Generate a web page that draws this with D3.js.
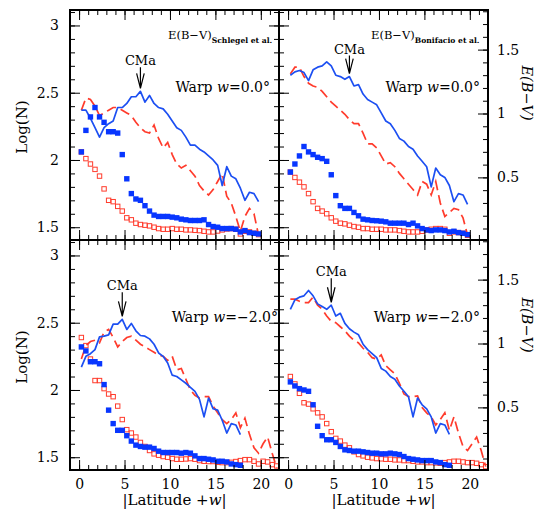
<!DOCTYPE html>
<html>
<head>
<meta charset="utf-8">
<script src="https://cdn.jsdelivr.net/npm/d3@7"></script>
<style>
    body { margin: 0; background: #fff; }
    svg text { font-family: "DejaVu Serif", serif; fill: #000; }
</style>
</head>
<body>
<svg id="chart" width="537" height="513"></svg>
<script>
(function () {

    // |Latitude + w| bins
    const latTop = [0.25, 0.75, 1.25, 1.75, 2.25, 2.75, 3.25, 3.75, 4.25, 4.75,
        5.25, 5.75, 6.25, 6.75, 7.25, 7.75, 8.25, 8.75, 9.25, 9.75,
        10.25, 10.75, 11.25, 11.75, 12.25, 12.75, 13.25, 13.75, 14.25, 14.75,
        15.25, 15.75, 16.25, 16.75, 17.25, 17.75, 18.25, 18.75, 19.25, 19.75];
    const latBot = [0.25, 0.75, 1.25, 1.75, 2.25, 2.75, 3.25, 3.75, 4.25, 4.75,
        5.25, 5.75, 6.25, 6.75, 7.25, 7.75, 8.25, 8.75, 9.25, 9.75,
        10.25, 10.75, 11.25, 11.75, 12.25, 12.75, 13.25, 13.75, 14.25, 14.75,
        15.25, 15.75, 16.25, 16.75, 17.25, 17.75, 18.25, 18.75, 19.25, 19.75,
        20.25, 20.75, 21.25, 21.75];

    // Warp w = 0.0, Schlegel et al.
    const tlLine = [2.37, 2.37, 2.31, 2.24, 2.17, 2.24, 2.27, 2.29, 2.39, 2.39,
        2.42, 2.47, 2.47, 2.51, 2.43, 2.48, 2.42, 2.39, 2.38, 2.34,
        2.29, 2.24, 2.22, 2.17, 2.11, 2.11, 2.08, 2.06, 2.03, 2.00,
        1.96, 1.81, 1.95, 1.88, 1.86, 1.79, 1.70, 1.76, 1.75, 1.69];
    const tlDash = [2.37, 2.46, 2.45, 2.40, 2.33, 2.35, 2.37, 2.39, 2.39, 2.37,
        2.35, 2.33, 2.28, 2.24, 2.21, 2.20, 2.26, 2.16, 2.09, 2.13,
        2.04, 1.97, 1.94, 1.96, 1.92, 1.88, 1.81, 1.77, 1.74, 1.78,
        1.84, 1.90, 1.73, 1.68, 1.58, 1.47, 1.58, 1.64, 1.60, 1.44];
    const tlBlueSq = [2.06, 2.22, 2.32, 2.39, 2.32, 2.28, 2.21, 2.21, 2.20, 2.04,
        1.86, 1.75, 1.71, 1.70, 1.66, 1.62, 1.59, 1.58, 1.58, 1.58,
        1.575, 1.57, 1.56, 1.555, 1.55, 1.55, 1.55, 1.555, 1.52, 1.505,
        1.50, 1.49, 1.49, 1.49, 1.485, 1.465, 1.475, 1.46, 1.455, 1.45];
    const tlRedSq = [2.06, 2.01, 1.97, 1.93, 1.88, 1.785, 1.70, 1.69, 1.655, 1.62,
        1.57, 1.555, 1.53, 1.52, 1.515, 1.51, 1.50, 1.49, 1.485, 1.485,
        1.49, 1.485, 1.485, 1.48, 1.48, 1.477, 1.475, 1.47, 1.465, 1.465,
        1.472, 1.48, 1.487, 1.49, 1.485, 1.45, 1.47, 1.465, 1.455, 1.445];

    // Warp w = 0.0, Bonifacio et al.
    const trLine = [2.63, 2.655, 2.665, 2.65, 2.59, 2.67, 2.69, 2.70, 2.73, 2.70,
        2.63, 2.62, 2.60, 2.62, 2.55, 2.56, 2.49, 2.45, 2.43, 2.41,
        2.35, 2.29, 2.27, 2.22, 2.16, 2.14, 2.10, 2.08, 2.03, 1.99,
        1.95, 1.80, 1.94, 1.89, 1.87, 1.81, 1.69, 1.75, 1.74, 1.67];
    const trDash = [2.64, 2.69, 2.69, 2.62, 2.57, 2.55, 2.54, 2.51, 2.47, 2.43,
        2.40, 2.37, 2.34, 2.30, 2.27, 2.27, 2.20, 2.12, 2.12, 2.09,
        2.03, 1.97, 1.98, 1.95, 1.90, 1.86, 1.82, 1.78, 1.74, 1.84,
        1.82, 1.74, 1.84, 1.68, 1.58, 1.61, 1.64, 1.63, 1.57, 1.44];
    const trBlueSq = [1.91, 1.97, 2.03, 2.10, 2.06, 2.04, 2.02, 2.01, 1.99, 1.89,
        1.735, 1.66, 1.64, 1.64, 1.61, 1.585, 1.56, 1.555, 1.55, 1.548,
        1.545, 1.54, 1.53, 1.53, 1.53, 1.53, 1.52, 1.53, 1.51, 1.49,
        1.48, 1.475, 1.48, 1.48, 1.475, 1.465, 1.47, 1.46, 1.455, 1.445];
    const trRedSq = [1.91, 1.87, 1.835, 1.80, 1.75, 1.69, 1.64, 1.62, 1.60, 1.57,
        1.545, 1.53, 1.525, 1.515, 1.505, 1.50, 1.49, 1.49, 1.485, 1.485,
        1.485, 1.48, 1.48, 1.48, 1.475, 1.47, 1.465, 1.465, 1.465, 1.47,
        1.48, 1.485, 1.49, 1.49, 1.485, 1.455, 1.465, 1.46, 1.455, 1.44];

    // Warp w = -2.0, Schlegel et al.
    const blLine = [2.17, 2.25, 2.27, 2.30, 2.395, 2.40, 2.41, 2.49, 2.49, 2.525,
        2.45, 2.495, 2.44, 2.405, 2.40, 2.38, 2.34, 2.275, 2.25, 2.20,
        2.11, 2.10, 2.075, 2.05, 2.02, 1.99, 1.93, 1.80, 1.94, 1.86,
        1.85, 1.775, 1.68, 1.75, 1.74, 1.668];
    const blDash = [2.23, 2.33, 2.36, 2.37, 2.35, 2.43, 2.45, 2.39, 2.32, 2.36,
        2.39, 2.40, 2.37, 2.34, 2.32, 2.30, 2.28, 2.26, 2.25, 2.22,
        2.25, 2.15, 2.16, 2.08, 2.00, 1.96, 1.94, 1.95, 1.95, 1.88,
        1.83, 1.78, 1.75, 1.78, 1.83, 1.72, 1.79, 1.67, 1.57, 1.53,
        1.60, 1.65, 1.53, 1.42];
    const blBlueSq = [2.32, 2.29, 2.21, 2.21, 2.195, 2.04, 1.85, 1.75, 1.70, 1.70,
        1.66, 1.62, 1.59, 1.58, 1.575, 1.575, 1.565, 1.545, 1.535, 1.535,
        1.535, 1.535, 1.53, 1.535, 1.53, 1.51, 1.49, 1.49, 1.485, 1.48,
        1.47, 1.47, 1.465, 1.45, 1.445, 1.44];
    const blRedSq = [2.39, 2.33, 2.23, 2.07, 2.07, 2.01, 1.97, 1.95, 1.88, 1.78,
        1.705, 1.68, 1.65, 1.61, 1.58, 1.55, 1.525, 1.515, 1.505, 1.50,
        1.49, 1.485, 1.485, 1.487, 1.49, 1.485, 1.475, 1.47, 1.468, 1.468,
        1.462, 1.46, 1.46, 1.462, 1.468, 1.475, 1.482, 1.482, 1.47, 1.45,
        1.47, 1.465, 1.445, 1.435];

    // Warp w = -2.0, Bonifacio et al.
    const brLine = [2.60, 2.67, 2.69, 2.70, 2.74, 2.70, 2.64, 2.62, 2.60, 2.63,
        2.55, 2.57, 2.495, 2.455, 2.43, 2.41, 2.34, 2.30, 2.27, 2.24,
        2.16, 2.14, 2.10, 2.08, 2.03, 1.99, 1.95, 1.80, 1.94, 1.89,
        1.86, 1.80, 1.68, 1.75, 1.74, 1.67];
    const brDash = [2.675, 2.675, 2.66, 2.65, 2.65, 2.69, 2.63, 2.60, 2.55, 2.51,
        2.50, 2.47, 2.44, 2.40, 2.37, 2.35, 2.31, 2.28, 2.24, 2.23,
        2.26, 2.18, 2.15, 2.12, 2.05, 1.97, 1.95, 1.95, 1.955, 1.87,
        1.83, 1.80, 1.74, 1.78, 1.83, 1.70, 1.80, 1.68, 1.58, 1.55,
        1.60, 1.65, 1.55, 1.43];
    const brBlueSq = [2.06, 2.03, 2.01, 2.00, 1.99, 1.89, 1.73, 1.66, 1.63, 1.63,
        1.61, 1.58, 1.555, 1.55, 1.545, 1.545, 1.54, 1.535, 1.53, 1.53,
        1.525, 1.525, 1.53, 1.525, 1.52, 1.505, 1.49, 1.485, 1.48, 1.475,
        1.475, 1.475, 1.465, 1.46, 1.445, 1.44];
    const brRedSq = [2.10, 2.045, 1.975, 1.905, 1.895, 1.86, 1.83, 1.80, 1.75, 1.69,
        1.64, 1.62, 1.59, 1.57, 1.54, 1.52, 1.51, 1.50, 1.495, 1.49,
        1.488, 1.485, 1.485, 1.48, 1.48, 1.475, 1.475, 1.47, 1.465, 1.465,
        1.46, 1.46, 1.458, 1.455, 1.46, 1.465, 1.47, 1.47, 1.465, 1.46,
        1.46, 1.455, 1.445, 1.43];

    const logTicks = [1.5, 2, 2.5, 3];
    const ebvTicks = [0.5, 1, 1.5];
    const latTicks = [0, 5, 10, 15, 20];

    // Panel settings
    const panels = [
        { col: 0, row: 0, lat: latTop, line: tlLine, dash: tlDash, blueSq: tlBlueSq, redSq: tlRedSq,
          source: "Schlegel et al.", ebvX: 168, warp: "0.0", warpEnd: 270, cma: 6.75, arrow: 21 },
        { col: 1, row: 0, lat: latTop, line: trLine, dash: trDash, blueSq: trBlueSq, redSq: trRedSq,
          source: "Bonifacio et al.", ebvX: 371, warp: "0.0", warpEnd: 480, cma: 6.75, arrow: 18 },
        { col: 0, row: 1, lat: latBot, line: blLine, dash: blDash, blueSq: blBlueSq, redSq: blRedSq,
          source: null, warp: "\u22122.0", warpEnd: 278, cma: 4.75, arrow: 24 },
        { col: 1, row: 1, lat: latBot, line: brLine, dash: brDash, blueSq: brBlueSq, redSq: brRedSq,
          source: null, warp: "\u22122.0", warpEnd: 480, cma: 4.75, arrow: 24 }
    ];

    const blue = "#1c4ff2", blueSq = "#0836ff", red = "#ff3b2c";
    const xEdges = [70, 279, 488], yEdges = [10, 240, 470];

    const svg = d3.select("#chart");

    const noDomain = (s) => s.select(".domain").remove();

    panels.forEach((p, i) => {
        const left = xEdges[p.col], right = xEdges[p.col + 1];
        const top = yEdges[p.row], bottom = yEdges[p.row + 1];

        const x = d3.scaleLinear().domain([-1, 22]).range([left, right]);
        const y = d3.scaleLinear().domain([1.405, 3.115]).range([bottom, top]);
        const e = d3.scaleLinear().domain([0.01, 1.81]).range([bottom, top]);

        const g = svg.append("g").attr("class", "panel");

        g.append("clipPath").attr("id", "clip" + i)
            .append("rect")
            .attr("x", left).attr("y", top)
            .attr("width", right - left).attr("height", bottom - top);

        const plot = g.append("g").attr("clip-path", "url(#clip" + i + ")");

        const lineGen = (vals) => d3.line()
            .x((d, k) => x(p.lat[k]))
            .y((d) => y(d))(vals);

        plot.append("path")
            .attr("d", lineGen(p.dash))
            .attr("fill", "none")
            .attr("stroke", red)
            .attr("stroke-width", 1.7)
            .attr("stroke-dasharray", "10,5");

        plot.append("path")
            .attr("d", lineGen(p.line))
            .attr("fill", "none")
            .attr("stroke", blue)
            .attr("stroke-width", 1.7)
            .attr("stroke-linejoin", "round");

        plot.selectAll(".red-sq")
            .data(p.redSq)
            .enter().append("rect")
            .attr("class", "red-sq")
            .attr("x", (d, k) => x(p.lat[k]) - 2.2)
            .attr("y", (d) => y(d) - 2.2)
            .attr("width", 4.4).attr("height", 4.4)
            .attr("fill", "none")
            .attr("stroke", red)
            .attr("stroke-width", 1);

        plot.selectAll(".blue-sq")
            .data(p.blueSq)
            .enter().append("rect")
            .attr("class", "blue-sq")
            .attr("x", (d, k) => x(p.lat[k]) - 2.7)
            .attr("y", (d) => y(d) - 2.7)
            .attr("width", 5.4).attr("height", 5.4)
            .attr("fill", blueSq);

        // ticks, all pointing into the panel
        const xMinor = d3.range(-1, 23);
        const yMinor = d3.range(15, 32).map((v) => v / 10);
        const eMinor = d3.range(1, 19).map((v) => v / 10);

        const tickGroup = (axis, tx, ty) => {
            g.append("g")
                .attr("transform", "translate(" + tx + "," + ty + ")")
                .call(axis.tickFormat(""))
                .call(noDomain)
                .selectAll("line").attr("stroke", "#000");
        };

        [[xMinor, 5], [latTicks, 10]].forEach(([vals, size]) => {
            tickGroup(d3.axisTop(x).tickValues(vals).tickSize(size), 0, bottom);
            tickGroup(d3.axisBottom(x).tickValues(vals).tickSize(size), 0, top);
        });
        [[yMinor, 5], [logTicks, 10]].forEach(([vals, size]) => {
            tickGroup(d3.axisRight(y).tickValues(vals).tickSize(size), left, 0);
        });
        if (p.col === 0) {
            [[yMinor, 5], [logTicks, 10]].forEach(([vals, size]) => {
                tickGroup(d3.axisLeft(y).tickValues(vals).tickSize(size), right, 0);
            });
        } else {
            [[eMinor, 5], [ebvTicks, 10]].forEach(([vals, size]) => {
                tickGroup(d3.axisLeft(e).tickValues(vals).tickSize(size), right, 0);
            });
        }

        // tick labels
        const labelAxis = (axis, tx, ty) => {
            g.append("g")
                .attr("transform", "translate(" + tx + "," + ty + ")")
                .call(axis.tickSize(0).tickFormat((d) => String(d)))
                .call(noDomain)
                .attr("font-family", "DejaVu Serif, serif")
                .attr("font-size", 14);
        };
        if (p.col === 0) labelAxis(d3.axisLeft(y).tickValues(logTicks).tickPadding(11), left, 0);
        if (p.col === 1) labelAxis(d3.axisRight(e).tickValues(ebvTicks).tickPadding(9), right, 0);
        if (p.row === 1) labelAxis(d3.axisBottom(x).tickValues(latTicks).tickPadding(9), 0, bottom);

        // frame
        g.append("rect")
            .attr("x", left).attr("y", top)
            .attr("width", right - left).attr("height", bottom - top)
            .attr("fill", "none")
            .attr("stroke", "#000")
            .attr("stroke-width", 2);

        // E(B-V) source label
        if (p.source) {
            const t = g.append("text")
                .attr("x", p.ebvX)
                .attr("y", top + 29)
                .attr("font-size", 11.5);
            t.append("tspan").text("E(B\u2212V)");
            t.append("tspan")
                .attr("dy", 4)
                .attr("font-size", 7.6)
                .attr("font-weight", "bold")
                .text(p.source);
        }

        // Warp label
        const w = g.append("text")
            .attr("x", p.warpEnd)
            .attr("y", top + 82)
            .attr("text-anchor", "end")
            .attr("font-size", 14);
        w.append("tspan").text("Warp ");
        w.append("tspan").attr("font-style", "italic").text("w");
        w.append("tspan").text("=" + p.warp + "\u00b0");

        // CMa arrow
        const k = p.lat.indexOf(p.cma);
        const ax = x(p.cma);
        const tip = y(p.line[k]) - 3;
        const tail = tip - p.arrow;
        g.append("path")
            .attr("d", "M" + ax + "," + tail + "V" + tip +
                "M" + (ax - 3.8) + "," + (tip - 15) + "L" + ax + "," + tip +
                "L" + (ax + 3.8) + "," + (tip - 15))
            .attr("fill", "none")
            .attr("stroke", "#000")
            .attr("stroke-width", 1.2);
        g.append("text")
            .attr("x", ax)
            .attr("y", tail - 2)
            .attr("text-anchor", "middle")
            .attr("font-size", 13)
            .text("CMa");
    });

    // Axis titles
    [127, 357].forEach((cy) => {
        svg.append("text")
            .attr("transform", "translate(22," + cy + ") rotate(-90)")
            .attr("text-anchor", "middle")
            .attr("dominant-baseline", "central")
            .attr("font-size", 15)
            .text("Log(N)");
    });
    [93, 325].forEach((cy) => {
        svg.append("text")
            .attr("transform", "translate(527," + cy + ") rotate(90)")
            .attr("text-anchor", "middle")
            .attr("dominant-baseline", "central")
            .attr("font-size", 14.5)
            .attr("font-style", "italic")
            .text("E(B\u2212V)");
    });
    [174.5, 383.5].forEach((cx) => {
        const t = svg.append("text")
            .attr("x", cx)
            .attr("y", 505)
            .attr("text-anchor", "middle")
            .attr("font-size", 15);
        t.append("tspan").text("|Latitude +");
        t.append("tspan").attr("font-style", "italic").text("w");
        t.append("tspan").text("|");
    });

})();
</script>
</body>
</html>
